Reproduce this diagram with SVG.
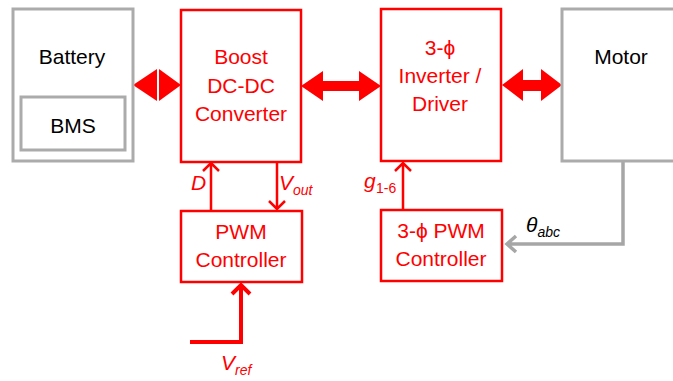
<svg xmlns="http://www.w3.org/2000/svg" width="673" height="381" viewBox="0 0 673 381">
<style>
.gbox{fill:#fff;stroke:#ababab;stroke-width:3}
.rbox{fill:#fff;stroke:#ff0000;stroke-width:2.5}
text{font-family:"Liberation Sans",Arial,sans-serif;font-size:21px;text-anchor:middle}
.k{fill:#000}
.r{fill:#ff0000}
.it{font-style:italic}
.sub{font-size:14px;text-anchor:start}
.lbl{text-anchor:start}
.rl{fill:none;stroke:#ff0000;stroke-width:2.5}
.rlt{fill:none;stroke:#ff0000;stroke-width:4}
.gl{fill:none;stroke:#a6a6a6;stroke-width:3.5}
.big{fill:#ff0000}
</style>
<rect width="673" height="381" fill="#fff"/>
<g id="connectors">
  <polygon class="big" points="133,85 157,69 157,101"/>
  <polygon class="big" points="159,69 181,85 159,101"/>
  <polygon class="big" points="301,86 323,71 323,81 359,81 359,71 381,86 359,101 359,91 323,91 323,101"/>
  <polygon class="big" points="502,85 523,69 523,80 541,80 541,69 562,85 541,101 541,91 523,91 523,101"/>
  <path class="rl" d="M211,211 V163 M203,171 L211,163 L219,171"/>
  <path class="rl" d="M277,162 V209 M269,201 L277,209 L285,201"/>
  <path class="rl" d="M403,210 V163 M395,171 L403,163 L411,171"/>
  <path class="rlt" d="M190,342 H241 V285 M232,294 L241,285 L250,294"/>
  <path class="gl" d="M623,161 V244 H507 M516,236 L507,244 L516,252"/>
</g>
<g id="battery">
  <rect class="gbox" x="13" y="9" width="120" height="152"/>
  <text class="k" x="72" y="64">Battery</text>
</g>
<g id="bms">
  <rect class="gbox" x="21" y="97" width="104" height="53"/>
  <text class="k" x="73" y="133">BMS</text>
</g>
<g id="boost">
  <rect class="rbox" x="181" y="10" width="120" height="152"/>
  <text class="r" x="241" y="64">Boost</text>
  <text class="r" x="241" y="93">DC-DC</text>
  <text class="r" x="241" y="121">Converter</text>
</g>
<g id="inverter">
  <rect class="rbox" x="381" y="9" width="120" height="152"/>
  <text class="r" x="440" y="55">3-ϕ</text>
  <text class="r" x="440" y="83">Inverter /</text>
  <text class="r" x="440" y="111">Driver</text>
</g>
<g id="motor">
  <rect class="gbox" x="562" y="9" width="130" height="152"/>
  <text class="k" x="621" y="64">Motor</text>
</g>
<g id="pwm">
  <rect class="rbox" x="181" y="211" width="121" height="71"/>
  <text class="r" x="241" y="239">PWM</text>
  <text class="r" x="241" y="267">Controller</text>
</g>
<g id="pwm3">
  <rect class="rbox" x="381" y="210" width="121" height="71"/>
  <text class="r" x="441" y="238">3-ϕ PWM</text>
  <text class="r" x="441" y="266">Controller</text>
</g>
<g id="labels">
  <text class="r it lbl" x="191" y="190">D</text>
  <text class="r it lbl" x="279" y="190">V<tspan font-size="14" dy="5">out</tspan></text>
  <text class="r it lbl" x="364" y="188">g</text>
  <text class="r sub" x="376" y="193">1-6</text>
  <text class="r it lbl" x="221" y="370">V<tspan font-size="14" dy="5">ref</tspan></text>
  <text class="k it lbl" x="526" y="232" font-size="23">θ<tspan font-size="14" dy="5">abc</tspan></text>
</g>
</svg>
